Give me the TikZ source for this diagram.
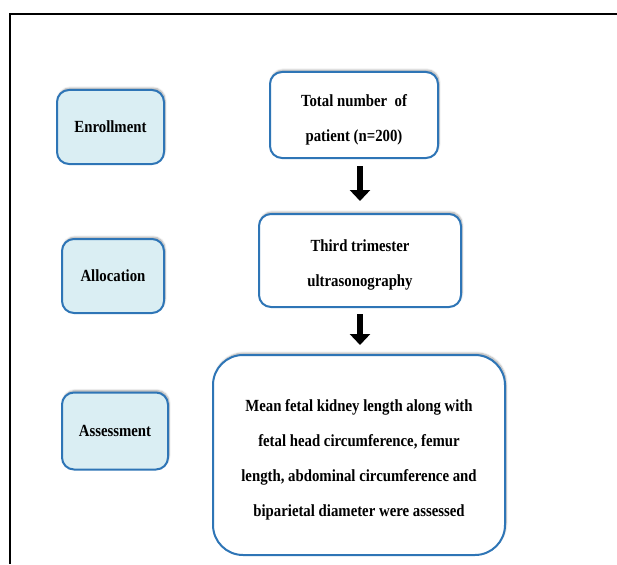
\documentclass[tikz,border=0pt]{standalone}
\usepackage{fontspec}
\setmainfont{Liberation Serif}
\newfontfamily\boxfont[FakeStretch=0.87]{Liberation Serif}
\usetikzlibrary{arrows.meta,shadows.blur}

\definecolor{boxblue}{RGB}{46,117,182}
\definecolor{stagefill}{RGB}{218,238,243}
\newcommand{\padtop}{\rule{0pt}{21pt}}

\begin{document}
\begin{tikzpicture}[
    x=1pt, y=1pt,
    box/.style={rectangle, rounded corners=12pt, draw=boxblue, line width=2pt,
        align=center, font=\boxfont\fontsize{17}{35}\selectfont\bfseries, inner sep=2pt,
        blur shadow={shadow xshift=1pt, shadow yshift=2pt, shadow opacity=35, shadow blur steps=6}},
    stage/.style={box, fill=stagefill},
    flowbox/.style={box, fill=white},
    flowarrow/.style={line width=6pt, -{Triangle[width=20pt,length=11pt]}}
]
    \useasboundingbox (0,0) rectangle (617,-564);
    \draw[line width=2pt] (617,-14) -- (10,-14) -- (10,-564);

    \node[stage, minimum width=107pt, minimum height=74pt] (enroll) at (110.5,-127) {Enrollment};
    \node[stage, minimum width=102pt, minimum height=74pt] (alloc) at (113,-276) {Allocation};
    \node[stage, minimum width=106pt, minimum height=77pt] (assess) at (115,-431) {Assessment};

    \node[flowbox, minimum width=168pt, minimum height=86pt] (total) at (354,-115)
        {\padtop Total number\ \ of\\patient (n=200)};
    \node[flowbox, minimum width=202pt, minimum height=93pt] (third) at (360,-260.5)
        {\padtop Third trimester\\ultrasonography};
    \node[flowbox, rounded corners=30pt, minimum width=292pt, minimum height=200pt] (mean) at (359,-455)
        {\padtop Mean fetal kidney length along with\\fetal head circumference, femur\\length, abdominal circumference and\\biparietal diameter were assessed};

    \draw[flowarrow, shorten <=7pt, shorten >=12pt] (total.south -| third.north) -- (third.north);
    \draw[flowarrow, shorten <=6pt, shorten >=9pt] (third.south) -- (third.south |- mean.north);
\end{tikzpicture}
\end{document}
